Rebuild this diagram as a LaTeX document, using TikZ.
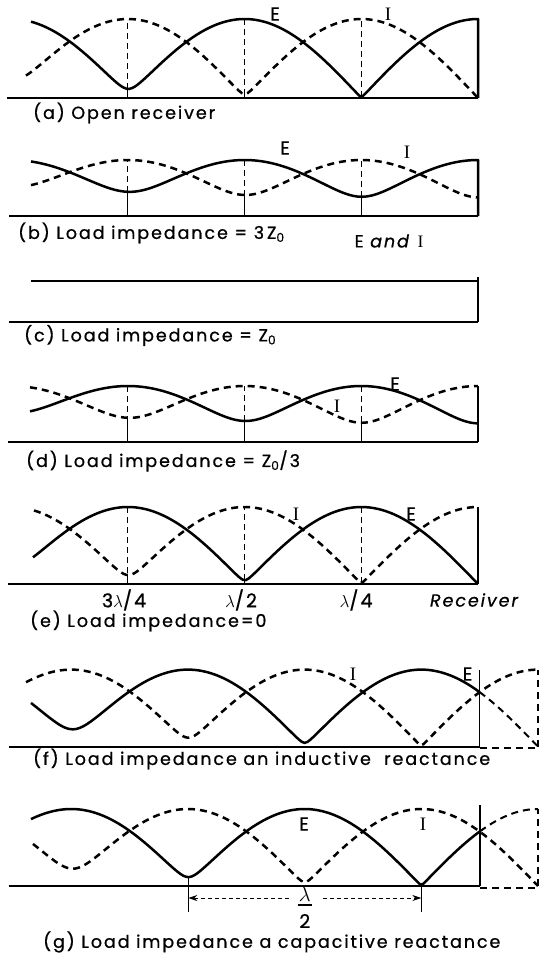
\documentclass[tikz,border=0pt]{standalone}
\usepackage{amsmath}
\usepackage{fontspec}
\setmainfont{Poppins}[LetterSpace=11, FakeBold=0.8]
\newfontfamily\serifI{Liberation Serif}
\usetikzlibrary{arrows.meta}
\tikzset{
  ecurve/.style={line width=2.5pt, line join=round},
  icurve/.style={line width=2.5pt, dash pattern=on 7pt off 5pt},
  guide/.style={line width=1pt, dash pattern=on 6pt off 4pt},
  guidefoot/.style={line width=1pt},
  axisline/.style={line width=2pt},
  endline/.style={line width=1.8pt},
  extline/.style={line width=2pt, dash pattern=on 7pt off 5pt},
  dimline/.style={line width=1pt, dash pattern=on 4pt off 3pt, -{Stealth[length=9pt,width=6pt]}},
  caption/.style={anchor=west, inner sep=0pt, font=\fontsize{17.5}{19}\selectfont},
  lbl/.style={inner sep=0pt, font=\fontsize{19}{21}\selectfont}
}
% one curve of the standing wave, sign 1 = E, -1 = I
\newcommand{\wavey}[2]{\bl-\amp*sw(#1,\xt,\gz,\ps,#2)}
\newcommand{\guideat}[1]{%
  \draw[guide] (#1,{\wavey{#1}{1}}) -- (#1,{\wavey{#1}{-1}});
  \draw[guidefoot] (#1,{\bl-\amp*min(sw(#1,\xt,\gz,\ps,1),sw(#1,\xt,\gz,\ps,-1))}) -- (#1,\bl);}
\newcommand{\Ilbl}{{\serifI I}}
\begin{document}
\begin{tikzpicture}[x=1pt, y=-1pt,
  declare function={
    qd(\xq,\xe)=(\xe-\xq)/116.7;
    gm(\xq,\xe,\ga)=\ga*(1-0.023*qd(\xq,\xe)^2);
    sw(\xq,\xe,\ga,\ph,\sg)=sqrt(max(0,1+gm(\xq,\xe,\ga)^2+2*(\sg)*gm(\xq,\xe,\ga)*cos(\ph-180*qd(\xq,\xe))))/(1+gm(\xq,\xe,\ga));
  }]
\useasboundingbox (0,0) rectangle (539,959);

% (a) open receiver
\def\bl{98}\def\amp{79}\def\xt{478}\def\gz{1}\def\ps{0}
\draw[axisline] (7,\bl) -- (478,\bl);
\foreach \gx in {127.9,244.6,361.3} {\guideat{\gx}}
\draw[ecurve] plot[domain=31:478, samples=160] (\x,{\wavey{\x}{1}}) -- (478,\bl);
\draw[icurve] plot[domain=26:478, samples=160] (\x,{\wavey{\x}{-1}});
\node[lbl] (ea) at (275,14) {E};
\node[lbl] (ia) at (388,14) {\Ilbl};
\node[caption] (capa) at (33,113) {(a) Open receiver};

% (b) load 3 Z0
\def\bl{216}\def\amp{56}\def\xt{478}\def\gz{0.5}\def\ps{0}
\draw[axisline] (9,\bl) -- (478,\bl);
\foreach \gx in {127.9,244.6,361.3} {\guideat{\gx}}
\draw[ecurve] plot[domain=31:478, samples=160] (\x,{\wavey{\x}{1}}) -- (478,\bl);
\draw[icurve] plot[domain=31:478, samples=160] (\x,{\wavey{\x}{-1}});
\node[lbl] (eb) at (285,148) {E};
\node[lbl] (ib) at (407,152) {\Ilbl};
\node[caption] (capb) at (18,233) {(b) Load impedance = 3\,Z\textsubscript{0}};
\node[lbl, font=\fontsize{17.5}{19}\selectfont] (eib) at (389,241) {E \textit{and} \Ilbl};

% (c) load Z0
\draw[ecurve] (31,281) -- (478,281);
\draw[endline] (478,277) -- (478,322);
\draw[axisline] (9,322) -- (478,322);
\node[caption] (capc) at (24,335.5) {(c) Load impedance = Z\textsubscript{0}};

% (d) load Z0/3
\def\bl{442}\def\amp{56}\def\xt{478}\def\gz{0.5}\def\ps{180}
\draw[axisline] (8,\bl) -- (478,\bl);
\foreach \gx in {127.9,244.6,361.3} {\guideat{\gx}}
\draw[ecurve] plot[domain=30:478, samples=160] (\x,{\wavey{\x}{1}});
\draw[icurve] plot[domain=30:478, samples=160] (\x,{\wavey{\x}{-1}});
\draw[endline] (478,{\wavey{478}{-1}}) -- (478,\bl);
\node[lbl] (ed) at (395,384) {E};
\node[lbl] (id) at (337,406) {\Ilbl};
\node[caption] (capd) at (26,461) {(d) Load impedance = Z\textsubscript{0}/3};

% (e) load 0
\def\bl{584}\def\amp{77}\def\xt{478}\def\gz{1}\def\ps{180}
\draw[axisline] (8,\bl) -- (478,\bl);
\foreach \gx in {127.9,244.6,361.3} {\guideat{\gx}}
\draw[ecurve] plot[domain=33:478, samples=160] (\x,{\wavey{\x}{1}});
\draw[icurve] plot[domain=34:478, samples=160] (\x,{\wavey{\x}{-1}});
\draw[endline] (478,{\wavey{478}{-1}}) -- (478,\bl);
\node[lbl] (ie) at (296,514) {\Ilbl};
\node[lbl] (ee) at (411,514) {E};
\node[lbl] (t3) at (124,600) {3$\lambda$/4};
\node[lbl] (t2) at (241,600) {$\lambda$/2};
\node[lbl] (t1) at (356,600) {$\lambda$/4};
\node[lbl, font=\fontsize{17.5}{19}\selectfont\itshape] (rcv) at (474,600) {Receiver};
\node[caption] (cape) at (30,621) {(e) Load impedance=0};

% (f) inductive reactance
\def\bl{746.6}\def\amp{77}\def\xt{538}\def\gz{1}\def\ps{180}
\draw[axisline] (8.6,\bl) -- (479.5,\bl);
\draw[ecurve] plot[domain=31:479.5, samples=160] (\x,{\wavey{\x}{1}});
\draw[extline] plot[domain=479.5:538, samples=30] (\x,{\wavey{\x}{1}});
\draw[icurve] plot[domain=26:538, samples=180] (\x,{\wavey{\x}{-1}});
\draw[endline] (479.5,670) -- (479.5,\bl);
\draw[extline] (479.5,748) -- (538,748) -- (538,{\wavey{538}{-1}});
\node[lbl] (if) at (353,674) {\Ilbl};
\node[lbl] (ef) at (467.5,674) {E};
\node[caption] (capf) at (33,759) {(f) Load impedance an inductive~ reactance};

% (g) capacitive reactance
\def\bl{886}\def\amp{77}\def\xt{538}\def\gz{1}\def\ps{0}
\draw[axisline] (8.6,\bl) -- (480,\bl);
\draw[ecurve] plot[domain=31:480, samples=160] (\x,{\wavey{\x}{1}});
\draw[extline] plot[domain=480:538, samples=30] (\x,{\wavey{\x}{1}});
\draw[icurve] plot[domain=33:538, samples=180] (\x,{\wavey{\x}{-1}});
\draw[endline] (480,805) -- (480,\bl);
\draw[extline] (480,888) -- (538,888) -- (538,{\wavey{538}{1}});
\node[lbl] (eg) at (304,824) {E};
\node[lbl] (ig) at (423,824) {\Ilbl};
\foreach \gx/\nm in {188.3/lt,421.3/rt} {
  \draw[guidefoot] (\gx,{\wavey{\gx}{1}}) -- (\gx,912);
  \coordinate (\nm) at (\gx,898);
}
\node[lbl, font=\fontsize{21}{23}\selectfont] (lam) at (304.8,894) {$\lambda$};
\node[lbl] (two) at (304.8,921) {2};
\draw[line width=1.4pt] (297.5,905) -- (312,905);
\coordinate (dl) at (289,898);
\coordinate (dr) at (323,898);
\draw[dimline] (dl) -- (lt);
\draw[dimline] (dr) -- (rt);
\node[caption] (capg) at (43,942) {(g) Load impedance a capacitive reactance};
\end{tikzpicture}
\end{document}
